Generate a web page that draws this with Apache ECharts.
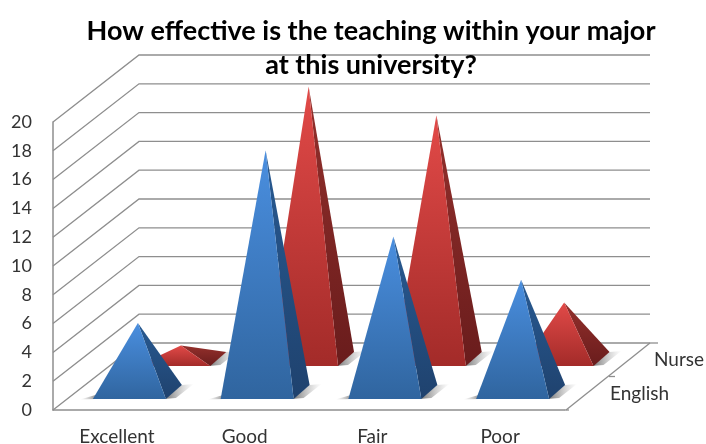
<!DOCTYPE html>
<html>
<head>
<meta charset="utf-8">
<style>html,body{margin:0;padding:0;background:#fff}#c{width:706px;height:444px}</style>
<script src="https://cdn.jsdelivr.net/npm/echarts@6/dist/echarts.min.js"></script>
</head>
<body>
<div id="c"></div>
<script>
const categories = ['Excellent', 'Good', 'Fair', 'Poor'];
const depthLabels = ['English', 'Nurse'];
const english = [5, 17, 11, 8];
const nurse = [1, 19, 17, 4];
const yTicks = [0, 2, 4, 6, 8, 10, 12, 14, 16, 18, 20];
const titleText = 'How effective is the teaching within your major\nat this university?';

const FONT = 'Lato, "Open Sans", sans-serif';
const DEPTH_X = 86, DEPTH_Y = -67;
const GRID_COL = '#8e8e8e';

function grad(a, b) {
  return { type: 'linear', x: 0, y: 0, x2: 0, y2: 1, colorStops: [{ offset: 0, color: a }, { offset: 1, color: b }] };
}
function hgrad(a, b) {
  return { type: 'linear', x: 0, y: 0, x2: 1, y2: 0, colorStops: [{ offset: 0, color: a }, { offset: 1, color: b }] };
}

function wallItem(params, api) {
  const cs = params.coordSys;
  const y = api.coord([0, api.value(0)])[1];
  const lx = cs.x, rx = cs.x + cs.width;
  return {
    type: 'polyline', silent: true,
    shape: { points: [[lx, y], [lx + DEPTH_X, y + DEPTH_Y], [rx + DEPTH_X, y + DEPTH_Y]] },
    style: { fill: null, stroke: GRID_COL, lineWidth: 1.3 }
  };
}

function floorItem(params) {
  const cs = params.coordSys;
  const y0 = cs.y + cs.height, rx = cs.x + cs.width;
  const sx = rx + 2;
  const mx = sx + DEPTH_X * 0.5, my = y0 + DEPTH_Y * 0.5;
  return {
    type: 'group', silent: true,
    children: [
      { type: 'line', shape: { x1: rx, y1: y0, x2: rx + 5, y2: y0 }, style: { stroke: GRID_COL, lineWidth: 1.3 } },
      { type: 'line', shape: { x1: sx, y1: y0, x2: rx + DEPTH_X, y2: y0 + DEPTH_Y }, style: { stroke: GRID_COL, lineWidth: 1.3 } },
      { type: 'line', shape: { x1: mx, y1: my, x2: mx + 6, y2: my }, style: { stroke: GRID_COL, lineWidth: 1.3 } },
      { type: 'line', shape: { x1: rx + DEPTH_X, y1: y0 + DEPTH_Y, x2: rx + DEPTH_X + 8, y2: y0 + DEPTH_Y }, style: { stroke: GRID_COL, lineWidth: 1.3 } }
    ]
  };
}

function pyramid(cfg) {
  return function (params, api) {
    const cat = api.value(0), val = api.value(1);
    const top = api.coord([cat, val]);
    const base = api.coord([cat, 0]);
    const bw = api.size([1, 0])[0] * 0.2857;
    const ax = top[0] + cfg.apexX, ay = top[1] + cfg.apexY;
    const frontY = base[1] + cfg.frontY, backY = base[1] + cfg.backY;
    const frX = base[0] + cfg.frontRightX, brX = frX + 16;
    const fl = [frX - 2 * bw, frontY], fr = [frX, frontY], br = [brX, backY];
    const children = [
      { type: 'polygon', shape: { points: [[fr[0] - 2, fr[1]], br, [br[0] + 12, br[1] - 1], [br[0] + 8, br[1] + 2], [fr[0] + 10, fr[1] - 1]] },
        style: { fill: hgrad('rgba(60,60,60,0.75)', 'rgba(150,150,150,0)') } },
      { type: 'polygon', shape: { points: [[fl[0] + 2, fl[1]], [fl[0] - 13, fl[1] + 0.5], [fl[0] + 6, fl[1] - 5]] },
        style: { fill: hgrad('rgba(150,150,150,0)', 'rgba(50,50,50,0.7)') } },
      { type: 'polygon', shape: { points: [fr, br, [ax, ay]] }, style: { fill: grad(cfg.sideTop, cfg.sideBottom) } },
      { type: 'polygon', shape: { points: [fl, fr, [ax, ay]] }, style: { fill: grad(cfg.frontTop, cfg.frontBottom) } }
    ];
    return { type: 'group', silent: true, children: children };
  };
}

const nurseStyle = { apexX: 64, apexY: -50, frontY: -44, backY: -58, frontRightX: 93.4,
  frontTop: '#e24a48', frontBottom: '#a32b29', sideTop: '#94302c', sideBottom: '#691c1c' };
const englishStyle = { apexX: 21, apexY: -15, frontY: -11, backY: -25, frontRightX: 49,
  frontTop: '#4a8fe0', frontBottom: '#30659f', sideTop: '#285a92', sideBottom: '#1f426e' };

const chart = echarts.init(document.getElementById('c'), null, { renderer: 'canvas' });
chart.setOption({
  animation: false,
  backgroundColor: '#ffffff',
  title: {
    text: titleText, left: 366, top: 9, textAlign: 'center', z: 20,
    textStyle: { fontFamily: FONT, fontWeight: 'bold', fontSize: 27, lineHeight: 34, color: '#000000' }
  },
  grid: { left: 53, top: 122, width: 511, height: 288, outerBoundsMode: 'none' },
  xAxis: {
    type: 'category', data: categories, boundaryGap: true,
    axisLine: { show: true, lineStyle: { color: GRID_COL, width: 1.5 } },
    axisTick: { show: false },
    axisLabel: { fontFamily: FONT, fontSize: 19, color: '#333333', margin: 17 }
  },
  yAxis: {
    type: 'value', min: 0, max: 20, interval: 2,
    axisLine: { show: true, lineStyle: { color: GRID_COL, width: 1.5 } },
    axisTick: { show: false },
    splitLine: { show: false },
    axisLabel: { fontFamily: FONT, fontSize: 18, color: '#333333', margin: 21 }
  },
  graphic: [
    { type: 'text', left: 610, top: 384, style: { text: depthLabels[0], font: '19px ' + FONT, fill: '#333333' } },
    { type: 'text', left: 654, top: 350, style: { text: depthLabels[1], font: '19px ' + FONT, fill: '#333333' } }
  ],
  series: [
    { type: 'custom', name: 'walls', data: yTicks.map(v => [v]), renderItem: wallItem, encode: { y: 0 }, z: 1, silent: true },
    { type: 'custom', name: 'floor', data: [[0]], renderItem: floorItem, encode: { y: 0 }, z: 1, silent: true },
    { type: 'custom', name: depthLabels[1], data: nurse.map((v, i) => [i, v]), renderItem: pyramid(nurseStyle), encode: { x: 0, y: 1 }, z: 3, silent: true },
    { type: 'custom', name: depthLabels[0], data: english.map((v, i) => [i, v]), renderItem: pyramid(englishStyle), encode: { x: 0, y: 1 }, z: 4, silent: true }
  ]
});
</script>
</body>
</html>
